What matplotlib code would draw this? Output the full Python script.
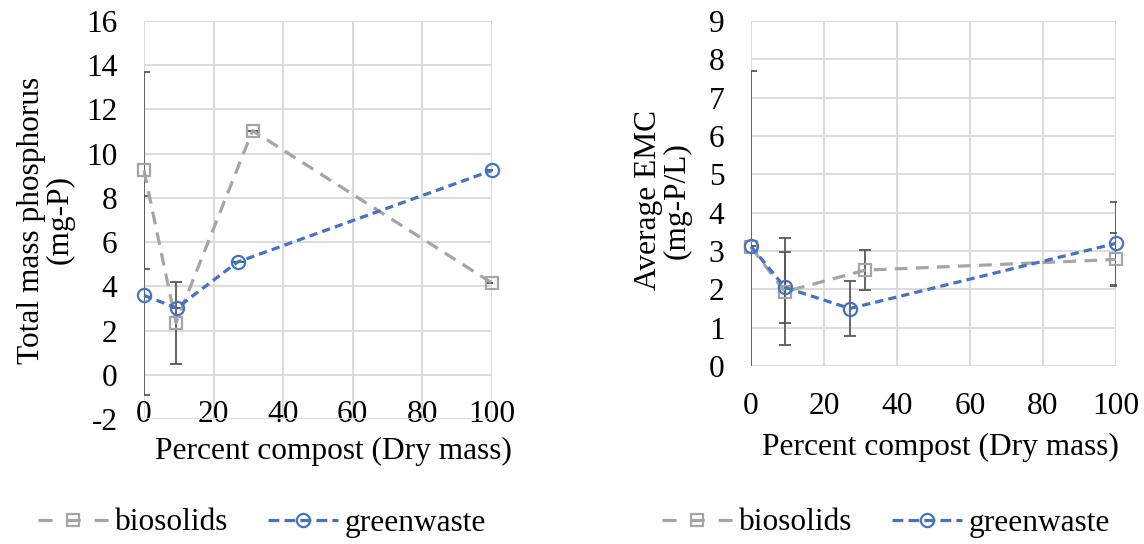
import matplotlib
matplotlib.use("Agg")
import matplotlib.pyplot as plt
from matplotlib.lines import Line2D

plt.rcParams['font.family'] = 'serif'
plt.rcParams['font.serif'] = ['Liberation Serif', 'DejaVu Serif']
plt.rcParams['axes.unicode_minus'] = False

# left panel: total mass phosphorus
bio_x_l = [0, 9.2, 31.2, 100]
bio_y_l = [9.24, 2.35, 11.04, 4.15]
bio_err_l = [4.47, 1.86, 0, 0]
gw_x_l = [0, 9.4, 26.9, 100]
gw_y_l = [3.59, 3.02, 5.1, 9.24]
gw_err_l = [4.49, 0, 0, 0]

# right panel: average EMC
bio_x_r = [0, 9.3, 31.3, 100]
bio_y_r = [3.1, 1.94, 2.5, 2.78]
bio_err_r = [4.6, 1.39, 0.53, 0.7]
gw_x_r = [0, 9.3, 27.1, 100]
gw_y_r = [3.12, 2.05, 1.5, 3.2]
gw_err_r = [0, 0.92, 0.72, 1.09]

GRAY = '#a5a5a5'
BLUE = '#4472c4'
ERR = '#595959'
GRID = '#d9d9d9'
FS = 22.6

fig = plt.figure(figsize=(11.44, 5.44), dpi=100)
ax1 = fig.add_axes([144 / 1144, 1 - 419 / 544, 348 / 1144, 398 / 544])
ax2 = fig.add_axes([751 / 1144, 1 - 366 / 544, 365 / 1144, 345 / 544])


def draw(ax, bx, by, be, gx, gy, ge):
    ax.errorbar(bx, by, yerr=be, fmt='none', ecolor=ERR, elinewidth=1.3,
                capsize=4, capthick=1.3, zorder=3)
    ax.errorbar(gx, gy, yerr=ge, fmt='none', ecolor=ERR, elinewidth=1.3,
                capsize=4, capthick=1.3, zorder=3)
    ax.plot(bx, by, color=GRAY, lw=2.3, dashes=(4, 2.6), marker='s', ms=9,
            mfc='none', mec=GRAY, mew=1.6, zorder=4, clip_on=False)
    ax.plot(gx, gy, color=BLUE, lw=2.3, dashes=(2.6, 1.6), marker='o', ms=9.5,
            mfc='none', mec=BLUE, mew=1.6, zorder=5, clip_on=False)
    ax.set_xlim(0, 100)
    ax.set_xticks(range(0, 101, 20))
    ax.grid(True, color=GRID, lw=1.3)
    ax.set_axisbelow(True)
    for s in ax.spines.values():
        s.set_visible(False)
    ax.tick_params(length=0, labelsize=FS, colors='black')


draw(ax1, bio_x_l, bio_y_l, bio_err_l, gw_x_l, gw_y_l, gw_err_l)
draw(ax2, bio_x_r, bio_y_r, bio_err_r, gw_x_r, gw_y_r, gw_err_r)

ax1.set_ylim(-2, 16)
ax1.set_yticks(range(-2, 17, 2))
ax1.tick_params(axis='y', pad=19)
ax1.tick_params(axis='x', pad=-14)
ax1.set_ylabel('Total mass phosphorus\n(mg-P)', fontsize=FS, linespacing=1.0)
ax1.yaxis.set_label_coords(-0.198, 0.5)
ax1.set_xlabel('Percent compost (Dry mass)', fontsize=FS)
ax1.xaxis.set_label_coords(0.543, -0.045)

ax2.set_ylim(0, 9)
ax2.set_yticks(range(0, 10))
ax2.tick_params(axis='y', pad=19)
ax2.tick_params(axis='x', pad=19)
ax2.set_ylabel('Average EMC\n(mg-P/L)', fontsize=FS, linespacing=1.0)
ax2.yaxis.set_label_coords(-0.162, 0.48)
ax2.set_xlabel('Percent compost (Dry mass)', fontsize=FS)
ax2.xaxis.set_label_coords(0.518, -0.195)

handles = [
    Line2D([], [], color=GRAY, lw=2.3, dashes=(4.4, 4.4), marker='s', ms=9,
           mfc='none', mec=GRAY, mew=1.6),
    Line2D([], [], color=BLUE, lw=2.3, dashes=(3.4, 1.6), marker='o', ms=9.5,
           mfc='none', mec=BLUE, mew=1.6),
]
labels = ['biosolids', 'greenwaste']
for lx in (38 / 1144, 662 / 1144):
    fig.legend(handles, labels, loc='center left', bbox_to_anchor=(lx, 1 - 523 / 544),
               ncol=2, frameon=False, prop={'family': 'serif', 'size': FS},
               handlelength=2.23, handletextpad=0.22, columnspacing=1.25,
               borderpad=0, borderaxespad=0)

fig.savefig('out.png', dpi=100)
